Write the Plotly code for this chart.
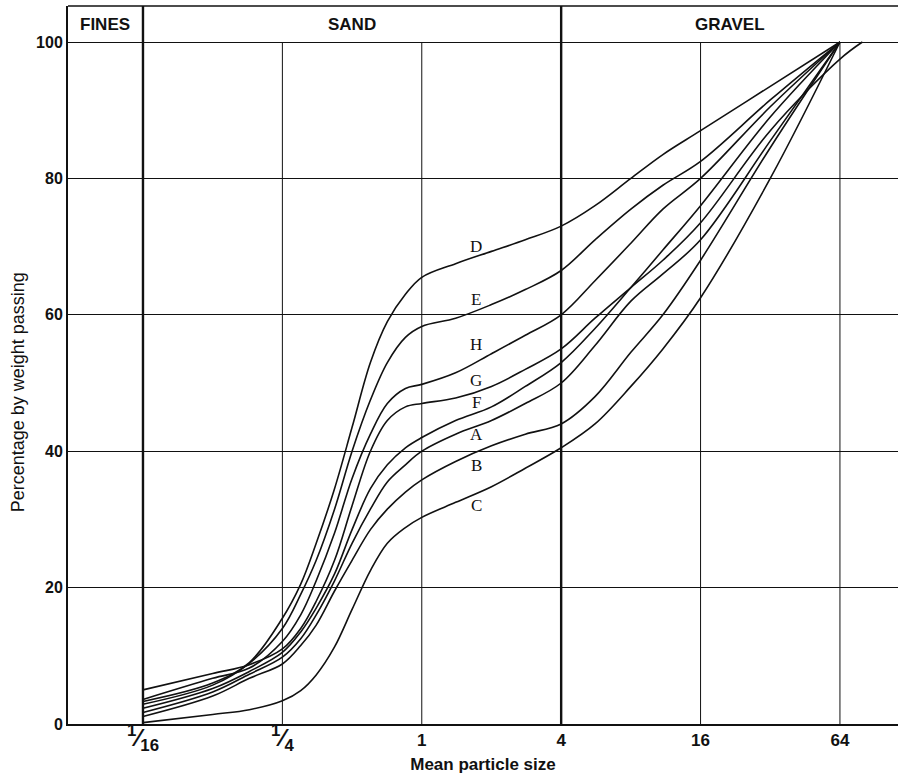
import math
import plotly.graph_objects as go

# ---- data ----
sizes = [0.0625, 0.125, 0.18, 0.25, 0.3, 0.35, 0.42, 0.5, 0.6, 0.71, 0.85, 1,
         1.4, 2, 2.8, 4, 5.6, 8, 11, 16, 32, 64]

curve_D = [3.3, 6.0, 9.0, 15.5, 20.5, 26.5, 34.5, 43.5, 53, 59, 63, 65.5, 67.5, 69.3, 71, 73, 76, 80, 83.5, 87, 93.5, 100]
curve_E = [2.9, 5.7, 8.9, 14.0, 19, 24, 31.5, 40, 47.5, 53, 56.7, 58.3, 59.5, 61.5, 63.7, 66.5, 71, 75.5, 79, 82.5, 91.5, 100]
curve_H = [3.6, 6.7, 8.2, 12.1, 16, 21, 28, 36, 42.5, 47, 49.2, 49.8, 51.5, 54.3, 57, 60, 65, 70.5, 75.5, 80, 90.5, 100]
curve_G = [5.0, 7.4, 8.7, 11.0, 14, 18, 24, 32, 40, 44.5, 46.5, 47.0, 47.8, 49.5, 52, 55, 59.5, 64, 68, 73.5, 87, 97.5]
curve_F = [2.3, 5.2, 7.7, 10.5, 13.5, 17, 22, 28.5, 34.5, 38, 40.5, 42, 44.5, 46.5, 49.5, 53, 58, 64, 69.5, 76, 89, 100]
curve_A = [1.7, 4.7, 7.3, 9.8, 12.5, 16, 21, 26.5, 31.5, 35.5, 38, 40, 42.5, 44.5, 47, 50, 55.5, 62, 66, 71, 85.5, 100]
curve_B = [1.1, 4.1, 6.7, 8.8, 11.5, 14.5, 19.5, 24, 28.5, 31.5, 34, 35.8, 38.5, 40.8, 42.5, 44, 48, 54.5, 60, 68, 84.5, 100]
curve_C = [0.2, 1.4, 2.1, 3.4, 4.9, 7.2, 11.3, 16.8, 22.5, 26.5, 28.8, 30.3, 32.5, 34.8, 37.5, 40.5, 44, 49.5, 55, 62.5, 80, 100]

# curve G runs on past 64 to reach 100
curve_G_tail_size = [64, 80]
curve_G_tail_val = [97.5, 100]

curve_names = ["D", "E", "H", "G", "F", "A", "B", "C"]
label_size = 1.72
label_vals = [70.0, 62.3, 55.7, 50.3, 47.1, 42.5, 37.9, 32.1]

size_ticks = [1/16, 1/4, 1, 4, 16, 64]
FR = "<span style='font-size:24px'><sup>1</sup>⁄<sub>{}</sub></span>"
size_tick_text = [FR.format(16), FR.format(4), "1", "4", "16", "64"]
pct_ticks = [0, 20, 40, 60, 80, 100]

band_names = ["FINES", "SAND", "GRAVEL"]
band_dividers = [1/16, 4]

x_title = "Mean particle size"
y_title = "Percentage by weight passing"

# axis extents
x_min, x_max = 0.02965, 114.0
y_max = 105.28

curves = [curve_D, curve_E, curve_H, curve_G, curve_F, curve_A, curve_B, curve_C]

fig = go.Figure()
INK = "#111111"
SANS = "Liberation Sans, Arial, sans-serif"

# vertical grid lines (0..100)
for xv in size_ticks:
    fig.add_trace(go.Scatter(x=[xv, xv], y=[0, 100], mode="lines",
                             line=dict(color=INK, width=1), hoverinfo="skip", showlegend=False))
# band dividers, full height and thicker
for xv in band_dividers:
    fig.add_trace(go.Scatter(x=[xv, xv], y=[0, y_max], mode="lines",
                             line=dict(color=INK, width=2.4), hoverinfo="skip", showlegend=False))

for name, vals in zip(curve_names, curves):
    xs = list(sizes)
    ys = list(vals)
    if name == "G":
        xs = xs + curve_G_tail_size[1:]
        ys = ys + curve_G_tail_val[1:]
    fig.add_trace(go.Scatter(x=xs, y=ys, mode="lines", name=name,
                             line=dict(color=INK, width=1.6, shape="spline", smoothing=1.0),
                             showlegend=False, hoverinfo="skip"))

annotations = []
for name, v in zip(curve_names, label_vals):
    annotations.append(dict(x=math.log10(label_size), y=v, xref="x", yref="y", text=name,
                            showarrow=False, font=dict(family="Liberation Serif, Times New Roman, serif",
                                                       size=17, color=INK)))
band_bounds = [x_min] + band_dividers + [x_max]
for i, nm in enumerate(band_names):
    cx = (math.log10(band_bounds[i]) + math.log10(band_bounds[i + 1])) / 2
    annotations.append(dict(x=cx, y=(100 + y_max) / 2, xref="x", yref="y", text="<b>" + nm + "</b>",
                            showarrow=False, font=dict(family=SANS, size=17, color=INK)))
# y-axis title, placed a little below the plot centre as in the reference
annotations.append(dict(x=-0.0602, y=0.462, xref="paper", yref="paper", text=y_title,
                        textangle=-90, showarrow=False, xanchor="center", yanchor="middle",
                        font=dict(family=SANS, size=18, color=INK)))

fig.update_layout(
    width=898, height=777, autosize=False,
    margin=dict(l=68, r=0, t=6, b=53),
    paper_bgcolor="white", plot_bgcolor="white",
    annotations=annotations,
    shapes=[dict(type="line", xref="paper", yref="paper", x0=0, x1=1, y0=1, y1=1,
                 line=dict(color=INK, width=1.6))],
    xaxis=dict(type="log", range=[math.log10(x_min), math.log10(x_max)],
               tickvals=size_ticks, ticktext=["<b>" + t + "</b>" for t in size_tick_text],
               showgrid=False, zeroline=False,
               showline=True, linecolor=INK, linewidth=1.6, ticks="",
               tickfont=dict(family=SANS, size=17, color=INK),
               title=dict(text="<b>" + x_title + "</b>", standoff=4,
                          font=dict(family=SANS, size=17, color=INK))),
    yaxis=dict(range=[0, y_max], tickvals=pct_ticks, showgrid=True, gridcolor=INK, gridwidth=1,
               zeroline=False, showline=True, linecolor=INK, linewidth=2, ticks="",
               tickfont=dict(family=SANS, size=16, color=INK),
               ticktext=["<b>%d</b>" % v for v in pct_ticks], tickmode="array"),
)

fig.write_html("out.html", config={"displayModeBar": False},
               post_script="document.body.style.margin='0px';")
